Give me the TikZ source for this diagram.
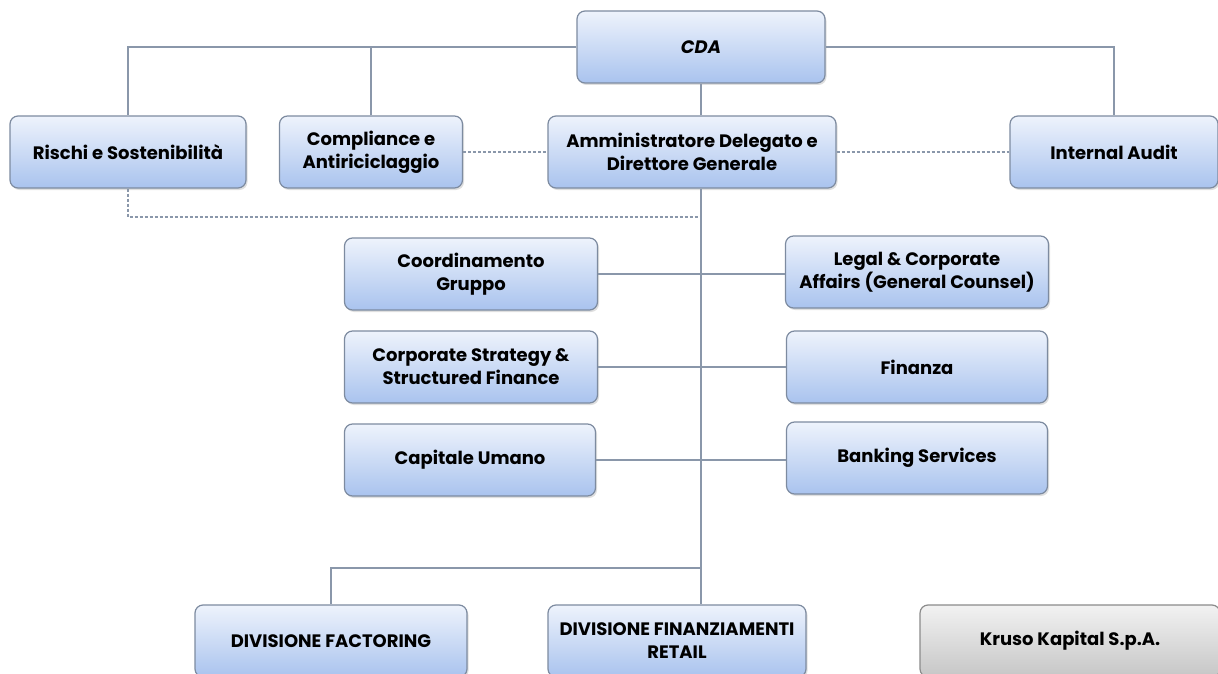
\documentclass[tikz,border=0pt]{standalone}
\usepackage{fontspec}
\setmainfont{Poppins}
\usepackage{tikz}
\usetikzlibrary{shadows}

\definecolor{boxtop}{HTML}{EEF3FC}
\definecolor{boxbot}{HTML}{A9C3EE}
\definecolor{boxline}{HTML}{7D8BA0}
\definecolor{greytop}{HTML}{F2F2F2}
\definecolor{greybot}{HTML}{C6C6C6}
\definecolor{linkcol}{HTML}{8A97AA}

\tikzset{
  unit/.style={draw=boxline, line width=1.2pt, rounded corners=8pt,
    top color=boxtop, bottom color=boxbot, align=center,
    minimum height=72pt, inner sep=2pt,
    font=\bfseries\fontsize{18}{23}\selectfont,
    drop shadow={opacity=0.25, shadow xshift=1.5pt, shadow yshift=-2pt}},
  company/.style={unit, top color=greytop, bottom color=greybot, draw=greybot!70!black},
  link/.style={draw=linkcol, line width=1.4pt},
  staff/.style={link, dash pattern=on 3pt off 2pt}
}

\begin{document}
\begin{tikzpicture}[x=1pt, y=-1pt]
  \useasboundingbox (0,0) rectangle (1218,674);

  % Top level
  \node[unit, minimum width=248pt] (cda) at (701,47) {\itshape CDA};

  % Second row
  \node[unit, minimum width=236pt] (rischi) at (128,152) {Rischi e Sostenibilità};
  \node[unit, minimum width=183pt] (compliance) at (371,152) {Compliance e\\Antiriciclaggio};
  \node[unit, minimum width=288pt] (ad) at (692,152) {Amministratore Delegato e\\Direttore Generale};
  \node[unit, minimum width=208pt] (audit) at (1114,152) {Internal Audit};

  % Staff functions
  \node[unit, minimum width=253pt] (coord) at (471,274) {Coordinamento\\Gruppo};
  \node[unit, minimum width=263pt] (legal) at (917,272) {Legal \& Corporate\\Affairs (General Counsel)};
  \node[unit, minimum width=253pt] (strategy) at (471,367) {Corporate Strategy \&\\Structured Finance};
  \node[unit, minimum width=261pt] (finanza) at (917,367) {Finanza};
  \node[unit, minimum width=251pt] (capitale) at (470,460) {Capitale Umano};
  \node[unit, minimum width=261pt] (banking) at (917,458) {Banking Services};

  % Divisions
  \node[unit, minimum width=272pt] (factoring) at (331,641) {DIVISIONE FACTORING};
  \node[unit, minimum width=258pt] (retail) at (677,641) {DIVISIONE FINANZIAMENTI\\RETAIL};
  \node[company, minimum width=300pt] (kruso) at (1070,641) {Kruso Kapital S.p.A.};

  % Junction points
  \coordinate (dj) at (701,217);
  \coordinate (bj) at (701,568);

  % Hierarchical lines
  \draw[link] (cda.west) -| (rischi.north);
  \draw[link] (compliance.north) -- (compliance.north |- cda.west);
  \draw[link] (cda.east) -| (audit.north);
  \draw[link] (cda.south) -- (cda.south |- ad.north);
  \draw[link] (cda.south |- ad.south) -- (bj) -- (bj |- retail.north);
  \draw[link] (bj) -| (factoring.north);
  \draw[link] (coord.east) -- (coord.east -| legal.west);
  \draw[link] (strategy.east) -- (finanza.west);
  \draw[link] (capitale.east) -- (capitale.east -| banking.west);

  % Dashed staff lines
  \draw[staff] (compliance.east) -- (ad.west);
  \draw[staff] (ad.east) -- (audit.west);
  \draw[staff] (rischi.south) |- (dj);
\end{tikzpicture}
\end{document}
